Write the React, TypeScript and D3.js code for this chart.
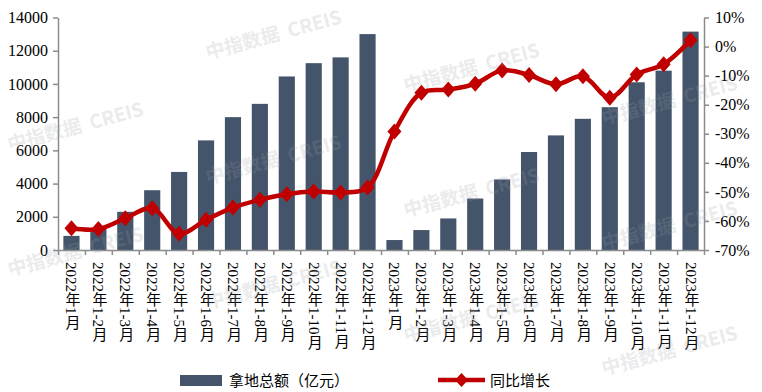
import React, { useEffect, useRef } from 'react';
import * as d3 from 'd3';

const categories = [
  '2022年1月', '2022年1-2月', '2022年1-3月', '2022年1-4月', '2022年1-5月', '2022年1-6月',
  '2022年1-7月', '2022年1-8月', '2022年1-9月', '2022年1-10月', '2022年1-11月', '2022年1-12月',
  '2023年1月', '2023年1-2月', '2023年1-3月', '2023年1-4月', '2023年1-5月', '2023年1-6月',
  '2023年1-7月', '2023年1-8月', '2023年1-9月', '2023年1-10月', '2023年1-11月', '2023年1-12月',
];
// 拿地总额（亿元）
const landAmount = [
  850, 1300, 2300, 3600, 4700, 6600, 8000, 8800, 10450, 11250, 11600, 13000,
  600, 1200, 1900, 3100, 4250, 5900, 6900, 7900, 8600, 10100, 10800, 13150,
];
// 同比增长 (%)
const yoyGrowth = [
  -62.5, -62.8, -59.1, -55.6, -64.4, -59.6, -55.4, -52.7, -50.8, -49.9, -50.2, -48.5,
  -29.2, -15.9, -14.8, -12.8, -8.2, -9.8, -13.0, -10.2, -17.6, -9.6, -6.1, 2.2,
];
const leftTicks = [0, 2000, 4000, 6000, 8000, 10000, 12000, 14000];
const rightTicks = [-70, -60, -50, -40, -30, -20, -10, 0, 10];

const W = 762;
const H = 392;
const BAR = '#44546A';
const RED = '#C00000';
const AXIS = '#8c8c8c';
const SERIF = '"Liberation Serif", "Noto Sans CJK SC", serif';
const CJK = '"Liberation Serif", "Noto Sans CJK SC", sans-serif';

const diamond = (cx: number, cy: number, w: number, h: number) =>
  `M${cx},${cy - h / 2}L${cx + w / 2},${cy}L${cx},${cy + h / 2}L${cx - w / 2},${cy}Z`;

export default function App() {
  const ref = useRef<SVGSVGElement>(null);

  useEffect(() => {
    const svg = d3.select(ref.current);
    svg.selectAll('*').remove();

    const left = 58, right = 704, top = 17.5, bottom = 250;

    const x = d3.scaleBand<string>().domain(categories).range([left, right])
      .paddingInner(0.4).paddingOuter(0.2);
    const yL = d3.scaleLinear().domain([0, 14000]).range([bottom, top]);
    const yR = d3.scaleLinear().domain([-70, 10]).range([bottom, top]);
    const slot = d3.scaleLinear().domain([0, categories.length]).range([left, right]);

    svg.append('rect').attr('width', W).attr('height', H).attr('fill', '#fff');

    // bars
    svg.append('g').selectAll('rect').data(landAmount).enter().append('rect')
      .attr('x', (_, i) => x(categories[i])!)
      .attr('y', (d) => yL(d))
      .attr('width', x.bandwidth())
      .attr('height', (d) => bottom - yL(d))
      .attr('fill', BAR);

    // axes
    const styleAxis = (g: any) => {
      g.select('.domain').attr('stroke', AXIS).attr('stroke-width', 1.5);
      g.selectAll('.tick line').attr('stroke', AXIS).attr('stroke-width', 1.5);
      g.selectAll('.tick text').attr('fill', '#000').attr('font-family', SERIF).attr('font-size', 16);
    };

    svg.append('g').attr('transform', `translate(${left},0)`)
      .call(d3.axisLeft(yL).tickValues(leftTicks).tickSize(5).tickSizeOuter(0).tickPadding(5).tickFormat(d3.format('d')))
      .call(styleAxis);

    svg.append('g').attr('transform', `translate(${right},0)`)
      .call(d3.axisRight(yR).tickValues(rightTicks).tickSize(5).tickSizeOuter(0).tickPadding(6).tickFormat((d: any) => `${d}%`))
      .call(styleAxis);

    svg.append('g').attr('transform', `translate(0,${bottom})`)
      .call(d3.axisBottom(slot).tickValues(d3.range(categories.length + 1)).tickSize(5).tickSizeOuter(0).tickFormat(() => ''))
      .call(styleAxis);

    // category labels, vertical
    svg.append('g').selectAll('text').data(categories).enter().append('text')
      .attr('x', (d) => x(d)! + x.bandwidth() / 2)
      .attr('y', 262)
      .style('writing-mode', 'vertical-rl')
      .attr('font-family', CJK)
      .attr('font-size', 15)
      .attr('fill', '#000')
      .text((d) => d);

    // line
    const line = d3.line<number>()
      .x((_, i) => x(categories[i])! + x.bandwidth() / 2)
      .y((d) => yR(d))
      .curve(d3.curveCatmullRom.alpha(0.5));

    svg.append('path').datum(yoyGrowth).attr('d', line)
      .attr('fill', 'none').attr('stroke', RED).attr('stroke-width', 4.5);

    svg.append('g').selectAll('path').data(yoyGrowth).enter().append('path')
      .attr('d', (d, i) => diamond(x(categories[i])! + x.bandwidth() / 2, yR(d), 14, 16))
      .attr('fill', RED);

    // legend
    const lg = svg.append('g');
    lg.append('rect').attr('x', 180).attr('y', 375).attr('width', 42).attr('height', 11).attr('fill', BAR);
    lg.append('text').attr('x', 229).attr('y', 386).attr('font-family', CJK).attr('font-size', 15).text('拿地总额（亿元）');
    lg.append('line').attr('x1', 438).attr('x2', 485).attr('y1', 380).attr('y2', 380)
      .attr('stroke', RED).attr('stroke-width', 4.5);
    lg.append('path').attr('d', diamond(461.5, 380, 13, 14)).attr('fill', RED);
    lg.append('text').attr('x', 490).attr('y', 386).attr('font-family', CJK).attr('font-size', 15).text('同比增长');

    // watermark (only tiles that fit inside the picture)
    const wm = svg.append('g').attr('pointer-events', 'none');
    for (let c = 0; c < 4; c++) {
      for (let r = 0; r < 4; r++) {
        const cx = 75 + 198 * c;
        const cy = 33 * c + 125 * r;
        if (cy < 30 || cy > H - 32) continue;
        wm.append('text')
          .attr('transform', `translate(${cx},${cy}) rotate(-15)`)
          .attr('text-anchor', 'middle')
          .attr('dominant-baseline', 'central')
          .attr('font-family', '"Noto Sans CJK SC", sans-serif')
          .attr('font-weight', 'bold')
          .attr('font-size', 19)
          .attr('fill', '#9aa0a6')
          .attr('opacity', 0.2)
          .style('white-space', 'pre')
          .text('中指数据  CREIS');
      }
    }
  }, []);

  return (
    <div style={{ position: 'absolute', left: 0, top: 0 }}>
      <svg ref={ref} width={W} height={H} style={{ display: 'block' }} />
    </div>
  );
}
